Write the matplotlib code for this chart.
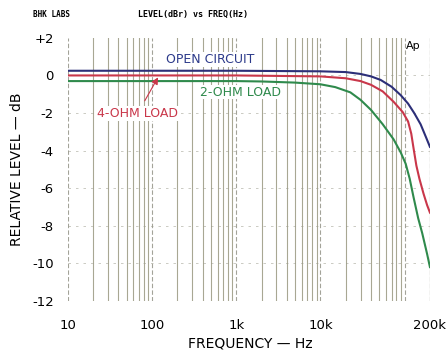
import numpy as np
import matplotlib.pyplot as plt

open_f = [10, 100, 1000, 10000, 20000, 30000, 40000, 52000, 70000, 90000, 110000, 130000, 155000, 180000, 200000]
open_db = [0.25, 0.25, 0.25, 0.22, 0.18, 0.08, -0.05, -0.24, -0.6, -1.05, -1.5, -2.0, -2.6, -3.3, -3.8]

four_f = [10, 100, 1000, 10000, 20000, 30000, 40000, 55000, 74000, 95000, 110000, 120000, 128000, 138000, 150000, 168000, 185000, 200000]
four_db = [0.0, 0.0, 0.0, -0.05, -0.15, -0.3, -0.5, -0.85, -1.4, -1.95, -2.45, -3.1, -3.9, -4.8, -5.5, -6.3, -6.9, -7.3]

two_f = [10, 100, 1000, 2000, 5000, 10000, 15000, 22700, 30000, 40000, 55000, 74000, 90000, 103000, 115000, 128000, 145000, 162000, 185000, 200000]
two_db = [-0.3, -0.3, -0.3, -0.32, -0.38, -0.47, -0.62, -0.9, -1.3, -1.84, -2.6, -3.4, -4.1, -4.7, -5.5, -6.5, -7.6, -8.4, -9.5, -10.2]

yticks = [2, 0, -2, -4, -6, -8, -10, -12]
ytick_labels = ['+2', '0', '-2', '-4', '-6', '-8', '-10', '-12']
xticks = [10, 100, 1000, 10000, 200000]
xtick_labels = ['10', '100', '1k', '10k', '200k']

fig = plt.figure(figsize=(4.46, 3.54), dpi=100)
ax = fig.add_axes([0.152, 0.150, 0.812, 0.743])
ax.set_xscale('log')
ax.set_xlim(10, 200000)
ax.set_ylim(-12, 2)

# vertical log grid
for dec in [10, 100, 1000, 10000, 100000]:
    for m in range(1, 10):
        f = dec * m
        if f > 200000:
            break
        if m == 1:
            ax.axvline(f, color='#8c8c80', lw=0.8, ls=(0, (4, 2)), alpha=0.8, zorder=1)
        else:
            ax.axvline(f, color='#6f6c4c', lw=0.8, alpha=0.6, zorder=1)
ax.axvline(200000, color='#8c8c80', lw=0.8, ls=(0, (4, 2)), zorder=1)
for y in yticks[1:-1]:
    ax.axhline(y, color='#9a9a8a', lw=0.6, ls=(0, (3, 6)), alpha=0.6, zorder=1)

ax.plot(two_f, two_db, color='#2f8a4c', lw=1.5, zorder=3)
ax.plot(four_f, four_db, color='#c9374a', lw=1.5, zorder=4)
ax.plot(open_f, open_db, color='#2c2f78', lw=1.5, zorder=5)

for s in ax.spines.values():
    s.set_visible(False)
ax.set_yticks(yticks)
ax.set_yticklabels(ytick_labels)
ax.set_xticks(xticks)
ax.set_xticklabels(xtick_labels)
ax.minorticks_off()
ax.tick_params(axis='y', length=0, labelsize=9.5, pad=10)
ax.tick_params(axis='x', length=0, labelsize=9.5, pad=13)

ax.set_ylabel('RELATIVE LEVEL — dB', fontsize=10, labelpad=6)
ax.set_xlabel('FREQUENCY — Hz', fontsize=10, va='bottom')
ax.xaxis.set_label_coords(0.503, -0.19)

box = dict(facecolor='white', edgecolor='none', pad=0.5)
ax.text(0.27, 0.905, 'OPEN CIRCUIT', transform=ax.transAxes, color='#2c3a8a', fontsize=9, bbox=box, zorder=6)
ax.text(0.365, 0.78, '2-OHM LOAD', transform=ax.transAxes, color='#2f8a4c', fontsize=9, bbox=box, zorder=6)
ax.text(0.08, 0.70, '4-OHM LOAD', transform=ax.transAxes, color='#c9374a', fontsize=9, bbox=box, zorder=6)
ax.annotate('', xy=(118, -0.1), xytext=(82, -1.35),
            arrowprops=dict(arrowstyle='-|>', color='#c9374a', lw=0.8,
                            shrinkA=0, shrinkB=0, mutation_scale=10))
ax.text(0.975, 0.99, 'Ap', transform=ax.transAxes, fontsize=8, ha='right', va='top', bbox=box)

fig.text(0.075, 0.952, 'BHK LABS', fontsize=5.5, family='DejaVu Sans Mono', weight='bold')
fig.text(0.31, 0.952, 'LEVEL(dBr) vs FREQ(Hz)', fontsize=6, family='DejaVu Sans Mono', weight='bold')

fig.savefig('out.png', dpi=100)
